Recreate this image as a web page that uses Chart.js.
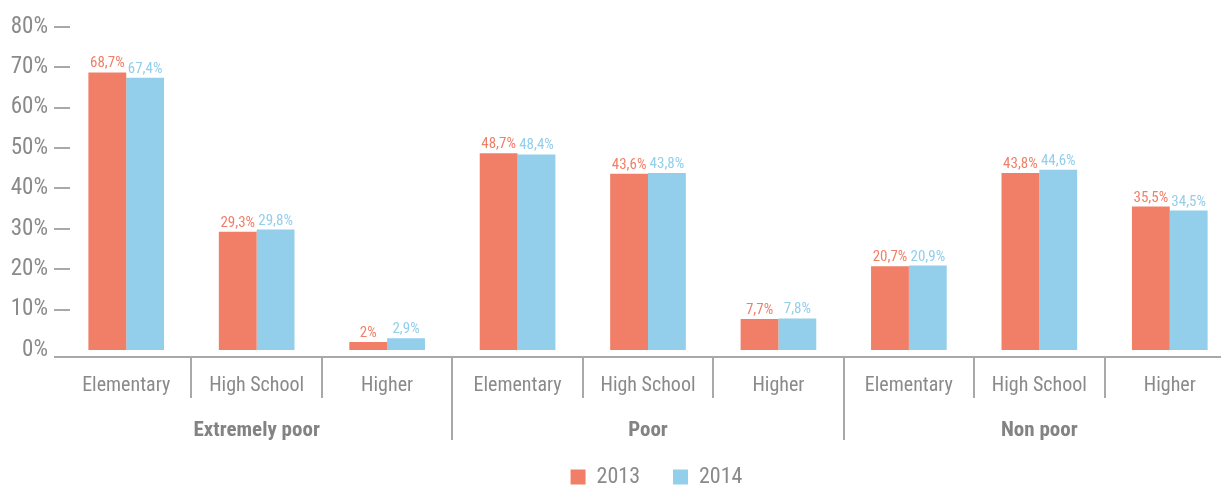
<!DOCTYPE html>
<html>
<head>
<meta charset="utf-8">
<script src="https://cdn.jsdelivr.net/npm/chart.js@4.4.1/dist/chart.umd.min.js"></script>
<style>
    html, body { margin: 0; padding: 0; overflow: hidden; background: #fff; }
</style>
</head>
<body>
<canvas id="chart" width="1235" height="485"></canvas>
<script>
// Data
const categories = ['Elementary', 'High School', 'Higher',
                    'Elementary', 'High School', 'Higher',
                    'Elementary', 'High School', 'Higher'];
const groups = ['Extremely poor', 'Poor', 'Non poor'];
const values2013 = [68.7, 29.3, 2, 48.7, 43.6, 7.7, 20.7, 43.8, 35.5];
const values2014 = [67.4, 29.8, 2.9, 48.4, 43.8, 7.8, 20.9, 44.6, 34.5];
const seriesLabels = ['2013', '2014'];

// Colors
const RED = '#F17F68';
const BLUE = '#93CEEA';
const TEXT = '#8a8a8a';
const LINE = '#a9a9a9';
const FONT = "'Roboto Condensed', 'DejaVu Sans Condensed', sans-serif";

// Format like the source: comma decimals
const fmt = v => String(v).replace('.', ',') + '%';

// Axis line, separators, group names, y dashes and value labels
const decorations = {
    id: 'decorations',
    afterLayout(chart) {
        // legend sits a bit right of the canvas center in the original
        chart.legend.left += 39;
        chart.legend.right += 39;
    },
    afterDraw(chart) {
        const ctx = chart.ctx;
        const x = chart.scales.x;
        const y = chart.scales.y;
        const axisY = chart.chartArea.bottom + 7;

        ctx.save();
        ctx.strokeStyle = LINE;
        ctx.lineWidth = 2;

        // y dashes
        y.ticks.forEach(t => {
            if (t.value === 0) return;
            const py = Math.round(y.getPixelForValue(t.value));
            ctx.beginPath();
            ctx.moveTo(54, py);
            ctx.lineTo(70, py);
            ctx.stroke();
        });

        // x axis line
        ctx.beginPath();
        ctx.moveTo(54, axisY);
        ctx.lineTo(chart.width, axisY);
        ctx.stroke();

        // separators between categories
        for (let i = 0; i < categories.length - 1; i++) {
            const px = Math.round((x.getPixelForValue(i) + x.getPixelForValue(i + 1)) / 2);
            const long = (i + 1) % 3 === 0;
            ctx.beginPath();
            ctx.moveTo(px, axisY);
            ctx.lineTo(px, long ? 440 : 398);
            ctx.stroke();
        }

        // group names
        ctx.fillStyle = '#838383';
        ctx.font = 'bold 21px ' + FONT;
        ctx.textAlign = 'center';
        ctx.textBaseline = 'middle';
        groups.forEach((g, i) => {
            ctx.fillText(g, x.getPixelForValue(i * 3 + 1), 431);
        });

        // value labels over bars
        ctx.font = '15px ' + FONT;
        ctx.textBaseline = 'alphabetic';
        chart.data.datasets.forEach((ds, di) => {
            const meta = chart.getDatasetMeta(di);
            ctx.fillStyle = ds.backgroundColor;
            meta.data.forEach((bar, i) => {
                ctx.fillText(fmt(ds.data[i]), bar.x, bar.y - 5);
            });
        });
        ctx.restore();
    }
};

new Chart(document.getElementById('chart'), {
    type: 'bar',
    data: {
        labels: categories,
        datasets: [
            {
                label: seriesLabels[0],
                data: values2013,
                backgroundColor: RED,
                barPercentage: 1,
                categoryPercentage: 0.58
            },
            {
                label: seriesLabels[1],
                data: values2014,
                backgroundColor: BLUE,
                barPercentage: 1,
                categoryPercentage: 0.58
            }
        ]
    },
    options: {
        responsive: false,
        animation: false,
        layout: { padding: { top: 19, left: 0, right: 0, bottom: 0 } },
        plugins: {
            legend: {
                position: 'bottom',
                maxHeight: 52,
                labels: {
                    boxWidth: 15,
                    boxHeight: 15,
                    padding: 33,
                    color: TEXT,
                    font: { family: FONT, size: 22 }
                }
            },
            tooltip: { enabled: false }
        },
        scales: {
            x: {
                grid: { display: false, drawTicks: false },
                border: { display: false },
                ticks: {
                    color: TEXT,
                    padding: 24,
                    maxRotation: 0,
                    autoSkip: false,
                    font: { family: FONT, size: 20 }
                },
                afterFit(scale) { scale.height = 83; }
            },
            y: {
                min: 0,
                max: 80,
                grid: { display: false, drawTicks: false },
                border: { display: false },
                ticks: {
                    stepSize: 10,
                    padding: 13,
                    color: TEXT,
                    font: { family: FONT, size: 23 },
                    callback: v => v + '%'
                },
                afterFit(scale) { scale.width = 61; }
            }
        }
    },
    plugins: [decorations]
});
</script>
</body>
</html>
